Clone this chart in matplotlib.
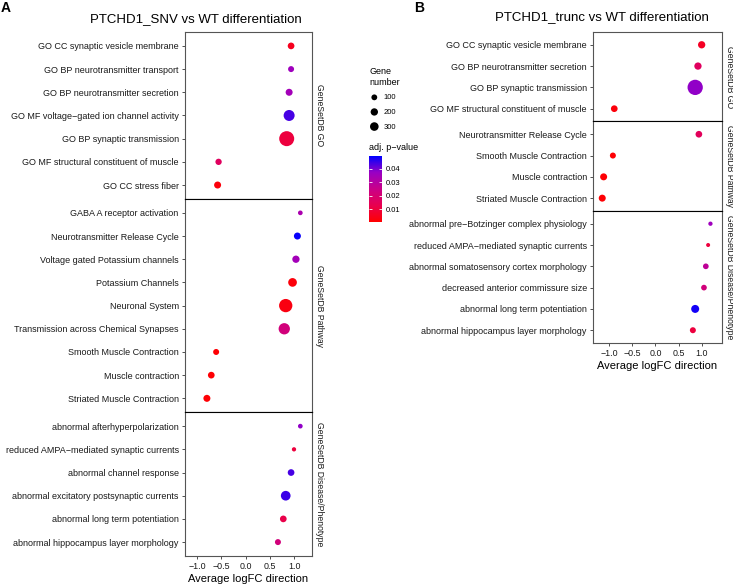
import matplotlib
matplotlib.use("Agg")
import matplotlib.pyplot as plt
import numpy as np
from matplotlib.colors import LinearSegmentedColormap, Normalize
from matplotlib.cm import ScalarMappable

plt.rcParams['font.family'] = ['Liberation Sans', 'DejaVu Sans']

# ---- panel A: PTCHD1_SNV vs WT ----
a_go_terms = ['GO CC synaptic vesicle membrane', 'GO BP neurotransmitter transport',
              'GO BP neurotransmitter secretion', 'GO MF voltage\u2212gated ion channel activity',
              'GO BP synaptic transmission', 'GO MF structural constituent of muscle',
              'GO CC stress fiber']
a_go_fc = [0.93, 0.93, 0.89, 0.89, 0.84, -0.56, -0.58]
a_go_n = [154, 110, 175, 535, 1055, 130, 175]
a_go_p = [0.005, 0.036, 0.035, 0.044, 0.010, 0.016, 0.002]

a_pw_terms = ['GABA A receptor activation', 'Neurotransmitter Release Cycle',
              'Voltage gated Potassium channels', 'Potassium Channels', 'Neuronal System',
              'Transmission across Chemical Synapses', 'Smooth Muscle Contraction',
              'Muscle contraction', 'Striated Muscle Contraction']
a_pw_fc = [1.12, 1.06, 1.03, 0.96, 0.82, 0.79, -0.61, -0.71, -0.80]
a_pw_n = [40, 175, 196, 308, 815, 570, 110, 154, 175]
a_pw_p = [0.033, 0.049, 0.035, 0.002, 0.003, 0.022, 0.001, 0.001, 0.001]

a_dp_terms = ['abnormal afterhyperpolarization', 'reduced AMPA\u2212mediated synaptic currents',
              'abnormal channel response', 'abnormal excitatory postsynaptic currents',
              'abnormal long term potentiation', 'abnormal hippocampus layer morphology']
a_dp_fc = [1.12, 0.99, 0.93, 0.82, 0.77, 0.66]
a_dp_n = [40, 22, 154, 400, 154, 110]
a_dp_p = [0.038, 0.010, 0.044, 0.045, 0.012, 0.022]

# ---- panel B: PTCHD1_trunc vs WT ----
b_go_terms = ['GO CC synaptic vesicle membrane', 'GO BP neurotransmitter secretion',
              'GO BP synaptic transmission', 'GO MF structural constituent of muscle']
b_go_fc = [1.00, 0.92, 0.86, -0.89]
b_go_n = [196, 196, 1100, 154]
b_go_p = [0.006, 0.016, 0.038, 0.002]

b_pw_terms = ['Neurotransmitter Release Cycle', 'Smooth Muscle Contraction',
              'Muscle contraction', 'Striated Muscle Contraction']
b_pw_fc = [0.94, -0.92, -1.12, -1.15]
b_pw_n = [154, 110, 175, 175]
b_pw_p = [0.015, 0.001, 0.001, 0.001]

b_dp_terms = ['abnormal pre\u2212Botzinger complex physiology', 'reduced AMPA\u2212mediated synaptic currents',
              'abnormal somatosensory cortex morphology', 'decreased anterior commissure size',
              'abnormal long term potentiation', 'abnormal hippocampus layer morphology']
b_dp_fc = [1.19, 1.14, 1.09, 1.05, 0.86, 0.81]
b_dp_n = [22, 10, 92, 92, 250, 110]
b_dp_p = [0.036, 0.010, 0.028, 0.022, 0.048, 0.010]

facet_labels = ['GeneSetDB GO', 'GeneSetDB Pathway', 'GeneSetDB Disease/Phenotype']
size_breaks = [100, 200, 300]
p_ticks = [0.01, 0.02, 0.03, 0.04]

W, H = 733, 584
fig = plt.figure(figsize=(W / 100, H / 100), dpi=100)

cmap = LinearSegmentedColormap.from_list(
    'rb', ['#FF0000', '#E8004F', '#C90088', '#9A00C3', '#0000FF'])
norm = Normalize(vmin=0.0003, vmax=0.0497)


def msize(n):
    # marker area in pt^2, roughly like ggplot's area scale
    return 0.518 * (14 + 0.2 * np.asarray(n, dtype=float))


def box(l, t, r, b):
    return [l / W, 1 - b / H, (r - l) / W, (b - t) / H]


def draw_panel(left, right, top, bottom, facets, xlim, title, title_x, title_y,
               letter, letter_x):
    total = sum(len(f[0]) + 0.2 for f in facets)
    unit = (bottom - top) / total
    y = top
    for i, (terms, fc, n, p) in enumerate(facets):
        h = (len(terms) + 0.2) * unit
        ax = fig.add_axes(box(left, y, right, y + h))
        ax.scatter(fc, np.arange(len(terms)), s=msize(n), c=p, cmap=cmap, norm=norm,
                   edgecolors='none', zorder=3, clip_on=False)
        ax.set_xlim(xlim)
        ax.set_ylim(len(terms) - 0.4, -0.6)
        ax.set_yticks(np.arange(len(terms)))
        ax.set_yticklabels(terms, fontsize=6.5, color='#1a1a1a')
        ax.set_xticks([-1.0, -0.5, 0.0, 0.5, 1.0])
        ax.set_xticklabels(['\u22121.0', '\u22120.5', '0.0', '0.5', '1.0'], fontsize=6.4,
                           color='#1a1a1a')
        ax.tick_params(length=2.5, width=0.6, color='#333333', pad=2)
        for s in ax.spines.values():
            s.set_color('#555555')
            s.set_linewidth(0.8)
        if i > 0:
            ax.spines['top'].set_color('black')
        if i < len(facets) - 1:
            ax.spines['bottom'].set_color('black')
            ax.tick_params(bottom=False, labelbottom=False)
        else:
            ax.set_xlabel('Average logFC direction', fontsize=8, labelpad=2)
        ax.text(1.0 + 3 / (right - left), 0.5, facet_labels[i], rotation=270,
                transform=ax.transAxes, ha='left', va='center', fontsize=6.2,
                color='#1a1a1a')
        y += h
    fig.text(title_x / W, 1 - title_y / H, title, fontsize=9.5, ha='center', va='center')
    fig.text(letter_x / W, 1 - 8 / H, letter, fontsize=10, fontweight='bold',
             ha='left', va='center')


draw_panel(185, 312, 32, 556,
           [(a_go_terms, a_go_fc, a_go_n, a_go_p),
            (a_pw_terms, a_pw_fc, a_pw_n, a_pw_p),
            (a_dp_terms, a_dp_fc, a_dp_n, a_dp_p)],
           (-1.25, 1.36), 'PTCHD1_SNV vs WT differentiation', 196, 19, 'A', 1)

draw_panel(593, 722, 32, 343,
           [(b_go_terms, b_go_fc, b_go_n, b_go_p),
            (b_pw_terms, b_pw_fc, b_pw_n, b_pw_p),
            (b_dp_terms, b_dp_fc, b_dp_n, b_dp_p)],
           (-1.35, 1.44), 'PTCHD1_trunc vs WT differentiation', 602, 17, 'B', 414)

# size legend
handles = [plt.scatter([], [], s=msize(v), color='black', edgecolors='none')
           for v in size_breaks]
leg = fig.legend(handles, [str(v) for v in size_breaks], title='Gene\nnumber',
                 loc='upper left', bbox_to_anchor=(364 / W, 1 - 62 / H), frameon=False,
                 fontsize=5.5, title_fontsize=6.5, alignment='left', handletextpad=0.6,
                 labelspacing=0.95, borderpad=0.2, handlelength=1.3)

# colour bar
fig.text(369 / W, 1 - 148 / H, 'adj. p\u2212value', fontsize=6.5, ha='left', va='center')
cax = fig.add_axes(box(369, 156, 382, 222))
cb = fig.colorbar(ScalarMappable(norm=norm, cmap=cmap), cax=cax, ticks=p_ticks)
cb.outline.set_visible(False)
cax.tick_params(direction='in', length=2.5, width=0.6, color='white', labelsize=5.5,
                pad=3, left=True, right=True)
cax.set_yticklabels([f'{t:.2f}' for t in p_ticks])

fig.savefig('out.png', dpi=100)
